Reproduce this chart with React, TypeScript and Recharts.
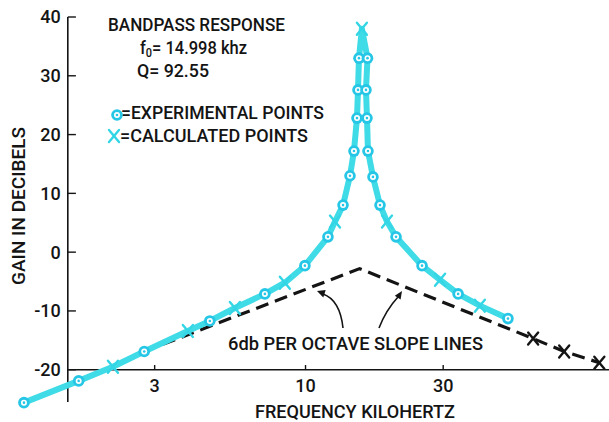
import React from 'react';
import { ComposedChart, Line, Scatter, XAxis, YAxis, ReferenceLine } from 'recharts';

// Experimental points (kHz, dB)
const expFreq = [1.057, 1.636, 2.76, 4.66, 7.23, 9.95, 11.96, 13.49, 14.26, 14.72, 15.08, 15.2, 15.32,
  16.4, 16.2, 16.33, 16.46, 17.13, 18.12, 20.59, 25.34, 33.8, 50.3];
const expGain = [-25.6, -21.9, -16.9, -11.7, -7.1, -2.3, 2.6, 8.0, 13.0, 17.2, 22.8, 27.6, 33.0,
  33.0, 27.6, 22.8, 17.2, 12.8, 8.0, 2.6, -2.3, -7.1, -11.3];

// Calculated points on the response curve
const calcFreq = [2.15, 3.91, 5.69, 8.48, 12.65, 15.68, 19.16, 29.26, 40.2];
const calcGain = [-19.5, -13.4, -9.5, -5.2, 5.2, 38.0, 5.2, -4.7, -9.1];

// 6 dB per octave slope lines
const slopeFreq = [2.76, 15.4, 61.5, 78.8, 104.3];
const slopeGain = [-16.9, -2.8, -14.7, -16.9, -18.8];
// Calculated points lying on the slope line
const slopeMarkFreq = [61.5, 78.8, 104.3];
const slopeMarkGain = [-14.7, -16.9, -18.8];

const yTicks = [40, 30, 20, 10, 0, -10, -20];
const xTicks = [3, 10, 30];

const FONT = "Roboto, 'Liberation Sans', sans-serif";
const CYAN = '#3fdbe6';
const CYAN_DOT = '#26c6e6';
const INK = '#141414';

const toPts = (fs: number[], gs: number[]) => fs.map((f, i) => ({ f, db: gs[i] }));
const expData = toPts(expFreq, expGain);
const calcData = toPts(calcFreq, calcGain);
const slopeData = toPts(slopeFreq, slopeGain);
const slopeMarkData = toPts(slopeMarkFreq, slopeMarkGain);

// response curve: all points, left branch rising then right branch falling
const allPts = [...expData, ...calcData];
const peak = allPts.reduce((a, b) => (b.db > a.db ? b : a));
const curveData = [
  ...allPts.filter(p => p.f < peak.f).sort((a, b) => a.db - b.db),
  peak,
  ...allPts.filter(p => p.f > peak.f).sort((a, b) => b.db - a.db),
];

const ExpDot = (props: any) => {
  const { cx, cy } = props;
  return (
    <g>
      <circle cx={cx} cy={cy} r={5.8} fill={CYAN_DOT} />
      <circle cx={cx} cy={cy} r={3} fill="#ffffff" />
      <circle cx={cx} cy={cy} r={1.3} fill={CYAN_DOT} />
    </g>
  );
};

const makeX = (color: string) => (props: any) => {
  const { cx, cy } = props;
  return (
    <g stroke={color} strokeWidth={2.4} strokeLinecap="round">
      <line x1={cx - 5} y1={cy - 6} x2={cx + 5} y2={cy + 6} />
      <line x1={cx - 5} y1={cy + 6} x2={cx + 5} y2={cy - 6} />
    </g>
  );
};
const CalcMark = makeX('#34d6e6');
const SlopeMark = makeX(INK);

const lbl = { fontSize: 18, fill: INK, fontFamily: FONT, fontWeight: 500 };

export default function App() {
  return (
    <div style={{ position: 'absolute', left: 0, top: 0, background: '#fff' }}>
      <ComposedChart width={609} height={422} margin={{ top: 17, right: 3, bottom: 17, left: 17 }}>
        <XAxis type="number" dataKey="f" scale="log" domain={[1, 110]} hide />
        <YAxis type="number" dataKey="db" domain={[-26, 40]} hide />

        {/* axes */}
        <ReferenceLine segment={[{ x: 1.5, y: -25.5 }, { x: 1.5, y: 40 }]} stroke={INK} strokeWidth={1.6} />
        <ReferenceLine segment={[{ x: 1.5, y: -20 }, { x: 114, y: -20 }]} stroke={INK} strokeWidth={1.6} ifOverflow="visible" />
        {yTicks.map(v => (
          <ReferenceLine key={'y' + v} segment={[{ x: 1.5, y: v }, { x: 1.6, y: v }]} stroke={INK} strokeWidth={1.4}
            label={{ value: String(v), position: 'left', offset: 7, ...lbl }} />
        ))}
        {xTicks.map(v => (
          <ReferenceLine key={'x' + v} segment={[{ x: v, y: -20 }, { x: v, y: -19.2 }]} stroke={INK} strokeWidth={1.4}
            label={{ value: String(v), position: 'bottom', offset: 9, ...lbl }} />
        ))}

        <Line data={slopeData} dataKey="db" type="linear" stroke={INK} strokeWidth={3.2}
          strokeDasharray="13 7" dot={false} isAnimationActive={false} />
        <Scatter data={slopeMarkData} dataKey="db" shape={SlopeMark} isAnimationActive={false} />

        <Line data={curveData} dataKey="db" type="linear" stroke={CYAN} strokeWidth={6}
          strokeLinejoin="round" strokeLinecap="round" dot={false} isAnimationActive={false} />
        <Scatter data={calcData} dataKey="db" shape={CalcMark} isAnimationActive={false} />
        <Scatter data={expData} dataKey="db" shape={ExpDot} isAnimationActive={false} />

        {/* titles */}
        <g fontFamily={FONT} fill={INK} fontWeight={500}>
          <text x={108} y={31} fontSize={19} textLength={177} lengthAdjust="spacingAndGlyphs">BANDPASS RESPONSE</text>
          <text x={140} y={54} fontSize={18} textLength={107} lengthAdjust="spacingAndGlyphs">
            <tspan>f</tspan><tspan dy={3} fontSize={12}>0</tspan><tspan dy={-3}>= 14.998 khz</tspan>
          </text>
          <text x={137} y={77} fontSize={18} textLength={72} lengthAdjust="spacingAndGlyphs">Q= 92.55</text>
          <text x={121} y={119} fontSize={18} textLength={203} lengthAdjust="spacingAndGlyphs">=EXPERIMENTAL POINTS</text>
          <text x={120} y={142} fontSize={18} textLength={188} lengthAdjust="spacingAndGlyphs">=CALCULATED POINTS</text>
          <text x={255} y={418} fontSize={18} textLength={200} lengthAdjust="spacingAndGlyphs">FREQUENCY KILOHERTZ</text>
          <text x={228} y={350} fontSize={18} textLength={255} lengthAdjust="spacingAndGlyphs">6db PER OCTAVE SLOPE LINES</text>
          <text transform="translate(25,285) rotate(-90)" fontSize={18} textLength={158} lengthAdjust="spacingAndGlyphs">GAIN IN DECIBELS</text>
        </g>
        {/* legend markers */}
        <ExpDot cx={117} cy={115} />
        <CalcMark cx={114} cy={136} />

        {/* arrows */}
        <g stroke={INK} strokeWidth={1.6} fill="none">
          <path d="M343,328 Q340,300 323,294" />
          <path d="M379,328 Q386,310 398,297" />
        </g>
        <g fill={INK}>
          <polygon points="317,291 325.7,290 323.3,297.5" />
          <polygon points="402,291 400.6,299.6 394.8,295.8" />
        </g>
      </ComposedChart>
    </div>
  );
}
